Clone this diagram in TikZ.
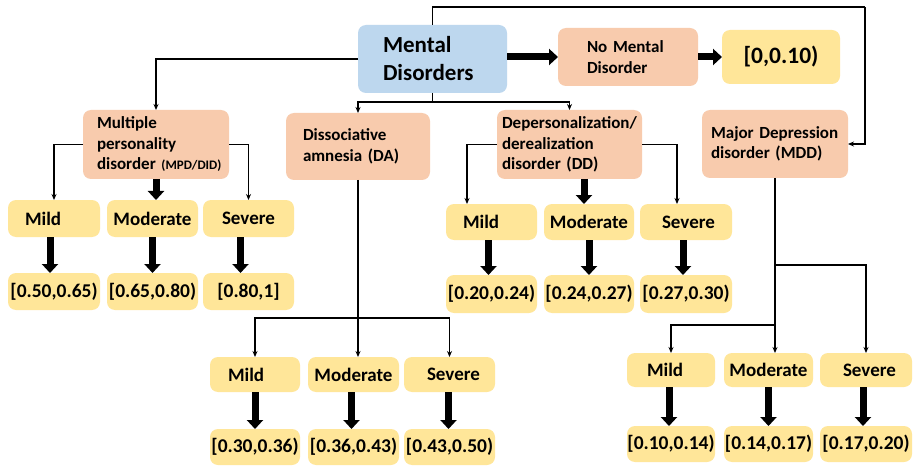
\documentclass[tikz,border=0pt]{standalone}
\usepackage{fontspec}
\setmainfont{Carlito}
\usetikzlibrary{arrows.meta}
\definecolor{cblue}{HTML}{BDD7EE}
\definecolor{corange}{HTML}{F8CBAD}
\definecolor{cyellow}{HTML}{FFE699}
\hyphenpenalty=10000
\exhyphenpenalty=10000
\tikzset{
 basebox/.style={rounded corners=8pt, outer sep=0pt, inner ysep=0pt},
 bluebox/.style={basebox, fill=cblue, align=left, font=\bfseries\fontsize{23}{28}\selectfont},
 dis/.style={basebox, fill=corange, align=left, font=\bfseries\fontsize{17}{20.5}\selectfont},
 lvl/.style={basebox, fill=cyellow, align=left, font=\bfseries\fontsize{19}{22}\selectfont},
 lvlc/.style={lvl, align=center},
 rng/.style={basebox, fill=cyellow, align=center, font=\bfseries\fontsize{19.5}{22}\selectfont},
 rngbig/.style={rng, font=\bfseries\fontsize{23.5}{26}\selectfont},
 ln/.style={line width=1.3pt, -{Stealth[length=6pt,width=5pt]}},
 plain/.style={line width=1.3pt},
 thk/.style={line width=7pt, -{Triangle[length=9pt,width=16pt]}},
}
% name, style, x1, y1, x2, y2, pad, text
\newcommand\bx[8]{%
 \pgfmathsetmacro\bxtw{#5-#3-2*#7}%
 \pgfmathsetmacro\bxmh{#6-#4}%
 \node[#2, anchor=north west, inner xsep=#7pt, text width=\bxtw pt, minimum height=\bxmh pt] (#1) at (#3,#4) {#8};}
\newcommand\thkar[3]{\draw[thk] ([xshift=#3pt]#1.south) -- ([xshift=#3pt]#1.south |- #2.north);}
\begin{document}
\begin{tikzpicture}[x=1pt,y=-1pt]
\useasboundingbox[fill=white] (0,0) rectangle (916,468);
% top level
\bx{md}{bluebox}{358}{25}{507}{93}{25}{Mental\\Disorders}
\bx{nm}{dis}{558}{28}{698}{86}{29}{No Mental\\Disorder}
\bx{r0}{rngbig}{722}{30}{840}{84}{2}{[0,0.10)}
% disorders
\bx{mpd}{dis}{83}{110}{229}{179}{14}{Multiple\\personality\\\mbox{disorder {\fontsize{13}{14}\selectfont(MPD/DID)}}}
\bx{da}{dis}{286}{113}{430}{180}{17}{Dissociative\\amnesia (DA)}
\bx{dd}{dis}{497}{110}{642}{179}{5}{Depersonalization/\\derealization\\disorder (DD)}
\bx{mdd}{dis}{702}{110}{848}{178}{9}{Major Depression\\disorder (MDD)}
% MPD levels
\bx{m1}{lvl}{8}{200}{100}{237}{17}{Mild}
\bx{mo1}{lvlc}{107}{200}{198}{237}{0}{Moderate}
\bx{s1}{lvl}{203}{200}{294}{237}{19}{Severe}
\bx{r1}{rng}{8}{273}{100}{310}{0}{[0.50,0.65)}
\bx{r2}{rng}{107}{273}{198}{310}{0}{[0.65,0.80)}
\bx{r3}{rng}{203}{273}{294}{310}{0}{[0.80,1]}
% DD levels
\bx{m3}{lvl}{446}{204}{537}{240}{17}{Mild}
\bx{mo3}{lvlc}{544}{204}{634}{240}{0}{Moderate}
\bx{s3}{lvl}{640}{204}{732}{240}{22}{Severe}
\bx{r7}{rng}{446}{275}{537}{313}{0}{[0.20,0.24)}
\bx{r8}{rng}{544}{275}{634}{313}{0}{[0.24,0.27)}
\bx{r9}{rng}{640}{275}{732}{313}{0}{[0.27,0.30)}
% DA levels
\bx{m2}{lvl}{210}{357}{300}{392}{18}{Mild}
\bx{mo2}{lvlc}{308}{357}{399}{392}{0}{Moderate}
\bx{s2}{lvl}{404}{357}{495}{392}{23}{Severe}
\bx{r4}{rng}{210}{429}{300}{465}{0}{[0.30,0.36)}
\bx{r5}{rng}{308}{429}{399}{465}{0}{[0.36,0.43)}
\bx{r6}{rng}{404}{429}{495}{465}{0}{[0.43,0.50)}
% MDD levels
\bx{m4}{lvl}{627}{353}{715}{387}{20}{Mild}
\bx{mo4}{lvlc}{724}{353}{813}{387}{0}{Moderate}
\bx{s4}{lvl}{820}{353}{912}{387}{23}{Severe}
\bx{r10}{rng}{627}{426}{715}{462}{0}{[0.10,0.14)}
\bx{r11}{rng}{724}{426}{813}{462}{0}{[0.14,0.17)}
\bx{r12}{rng}{820}{426}{912}{462}{0}{[0.17,0.20)}
% connectors from Mental Disorders
\draw[thk] (md.east |- nm.west) -- (nm.west);
\draw[thk] (nm.east) -- (r0.west);
\coordinate (tr) at (865,7);
\draw[plain] (md.north) |- (tr);
\draw[ln] (tr) |- (mdd.east);
\draw[ln] (md.west) -| (mpd.north);
\draw[plain] (md.south) -- ++(0,9) coordinate (j1);
\draw[ln] (j1) -| (da.north);
\draw[ln] (j1) -| (dd.north);
% MPD
\draw[ln] (mpd.west) -| (m1.north);
\draw[ln] (mpd.east) -| (s1.north);
\draw[thk] (mpd.south) -- (mpd.south |- mo1.north);
\thkar{m1}{r1}{-4}
\thkar{mo1}{r2}{0}
\thkar{s1}{r3}{-8}
% DD
\draw[ln] (dd.west) -| ([xshift=21pt]m3.north west);
\draw[ln] (dd.east) -| ([xshift=37pt]s3.north west);
\draw[thk] ([xshift=40pt]mo3.north west |- dd.south) -- ([xshift=40pt]mo3.north west);
\thkar{m3}{r7}{-3}
\thkar{mo3}{r8}{0}
\thkar{s3}{r9}{-3}
% DA
\coordinate (j2) at (358,318);
\draw[plain] (da.south) -- (j2);
\draw[ln] (j2) -| (m2.north);
\draw[ln] (j2) -- (j2 |- mo2.north);
\draw[ln] (j2) -| (s2.north);
\thkar{m2}{r4}{0}
\thkar{mo2}{r5}{-2}
\thkar{s2}{r6}{-1}
% MDD
\coordinate (j3) at (775,265);
\coordinate (j4) at (775,325);
\draw[plain] (mdd.south) -- (j4);
\draw[ln] (j3) -| (s4.north);
\draw[ln] (j4) -| (m4.north);
\draw[ln] (j4) -- (j4 |- mo4.north);
\thkar{m4}{r10}{-2}
\thkar{mo4}{r11}{0}
\thkar{s4}{r12}{-3}
\end{tikzpicture}
\end{document}
